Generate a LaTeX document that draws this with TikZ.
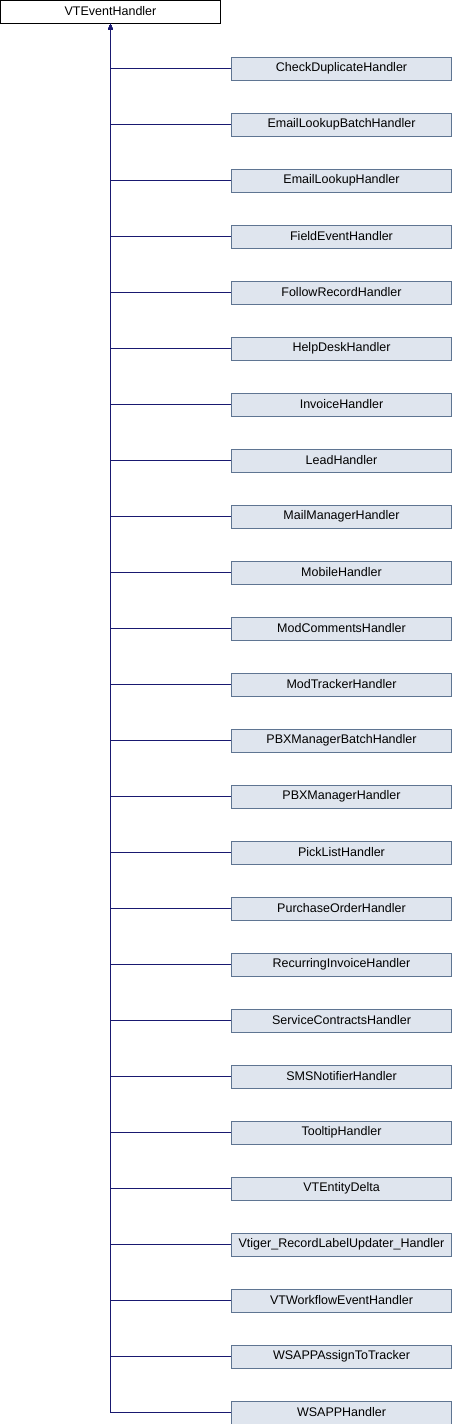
\documentclass[tikz,border=0pt]{standalone}
\usepackage{fontspec}
\setmainfont{Liberation Sans}
\usetikzlibrary{arrows.meta}
\definecolor{edgeblue}{HTML}{191970}
\definecolor{boxfill}{HTML}{DFE5EE}
\definecolor{boxdraw}{HTML}{5F7592}
\tikzset{
  topbox/.style={draw=black, fill=white, line width=0.9pt, minimum width=220pt, minimum height=23pt, inner sep=0pt, font=\fontsize{12.5pt}{14pt}\selectfont},
  childbox/.style={draw=boxdraw, fill=boxfill, line width=0.9pt, minimum width=220pt, minimum height=23pt, inner sep=0pt, font=\fontsize{12.5pt}{14pt}\selectfont},
  inherit/.style={draw=edgeblue, line width=0.9pt, -{Latex[length=6pt,width=5pt]}}
}
\begin{document}
\begin{tikzpicture}[x=1pt,y=-1pt]
\useasboundingbox (0,0) rectangle (452,1424);
\node[topbox] (top) at (110.5,11.5) {VTEventHandler};
\foreach \name [count=\i] in {CheckDuplicateHandler,EmailLookupBatchHandler,EmailLookupHandler,FieldEventHandler,FollowRecordHandler,HelpDeskHandler,InvoiceHandler,LeadHandler,MailManagerHandler,MobileHandler,ModCommentsHandler,ModTrackerHandler,PBXManagerBatchHandler,PBXManagerHandler,PickListHandler,PurchaseOrderHandler,RecurringInvoiceHandler,ServiceContractsHandler,SMSNotifierHandler,TooltipHandler,VTEntityDelta,Vtiger\_RecordLabelUpdater\_Handler,VTWorkflowEventHandler,WSAPPAssignToTracker,WSAPPHandler}{
  \node[childbox] (c\i) at (341.5,{68.5+56*(\i-1)}) {\name};
  \draw[inherit] (c\i.west) -| (top.south);
}
\end{tikzpicture}
\end{document}
